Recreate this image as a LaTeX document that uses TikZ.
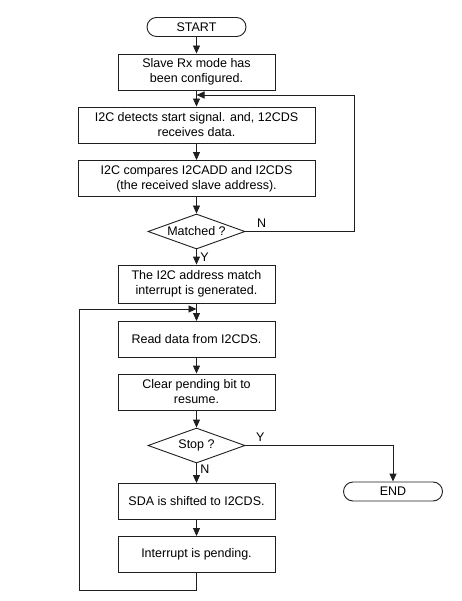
\documentclass[tikz,border=0pt]{standalone}
\usepackage{fontspec}
\setmainfont{Liberation Sans}
\usetikzlibrary{shapes.geometric, shapes.misc, arrows.meta, positioning}

\begin{document}
\begin{tikzpicture}[node distance=53pt, font=\fontsize{12.5}{15}\selectfont]

\definecolor{linecolor}{rgb}{0.12, 0.12, 0.12}

\tikzstyle{term} = [rounded rectangle, draw=linecolor, line width=0.9pt, minimum width=99pt, minimum height=19pt, inner sep=0pt]
\tikzstyle{process} = [rectangle, draw=linecolor, line width=0.9pt, minimum width=157pt, minimum height=36pt, inner sep=0pt, align=center]
\tikzstyle{wideprocess} = [process, minimum width=237pt]
\tikzstyle{decision} = [diamond, draw=linecolor, line width=0.9pt, aspect=2.8, minimum width=97pt, minimum height=35pt, inner sep=0pt]
\tikzstyle{arrow} = [-{Triangle[length=8pt, width=7pt]}, line width=0.9pt, draw=linecolor]

\useasboundingbox (0,0) rectangle (461pt,-601pt);

\node[term] (start) at (196.5pt,-27pt) {START};
\node[process, below of=start, node distance=45pt] (B1) {Slave Rx mode has\\been configured.};
\node[wideprocess, below of=B1] (B2) {I2C detects start signal. and, 12CDS\\receives data.};
\node[wideprocess, below of=B2, node distance=53.5pt] (B3) {I2C compares I2CADD and I2CDS\\(the received slave address).};
\node[decision, below of=B3] (match) {Matched ?};
\node[process, below of=match, node distance=52.5pt, minimum height=38pt] (B4) {The I2C address match\\interrupt is generated.};
\node[process, below of=B4, node distance=55.5pt] (B5) {Read data from I2CDS.};
\node[process, below of=B5, node distance=52.5pt] (B6) {Clear pending bit to\\resume.};
\node[decision, below of=B6, node distance=53.5pt] (stop) {Stop ?};
\node[process, below of=stop, node distance=56pt] (B7) {SDA is shifted to I2CDS.};
\node[process, below of=B7] (B8) {Interrupt is pending.};
\node[term, right of=stop, node distance=196.5pt, yshift=-46pt] (end) {END};

\coordinate[below of=B1, node distance=23pt] (J1);
\coordinate[below of=B4, node distance=25pt] (J2);
\coordinate[right of=match, node distance=157.5pt] (NR);
\coordinate (LB) at (79pt,-590pt);

\draw[arrow] (start) -- (B1);
\draw[arrow] (B1) -- (B2);
\draw[arrow] (B2) -- (B3);
\draw[arrow] (B3) -- (match);
\draw[arrow] (match) -- (B4) node[midway, right] {Y};
\draw[arrow] (match.east) -- node[pos=0.15, above] {N} (NR) |- (J1);

\draw[arrow] (B4) -- (B5);
\draw[arrow] (B5) -- (B6);
\draw[arrow] (B6) -- (stop);
\draw[arrow] (stop) -- (B7) node[pos=0.3, right] {N};
\draw[arrow] (stop.east) -| node[pos=0.05, above] {Y} (end.north);
\draw[arrow] (B7) -- (B8);
\draw[arrow] (B8.south) |- (LB) |- (J2);

\end{tikzpicture}
\end{document}
